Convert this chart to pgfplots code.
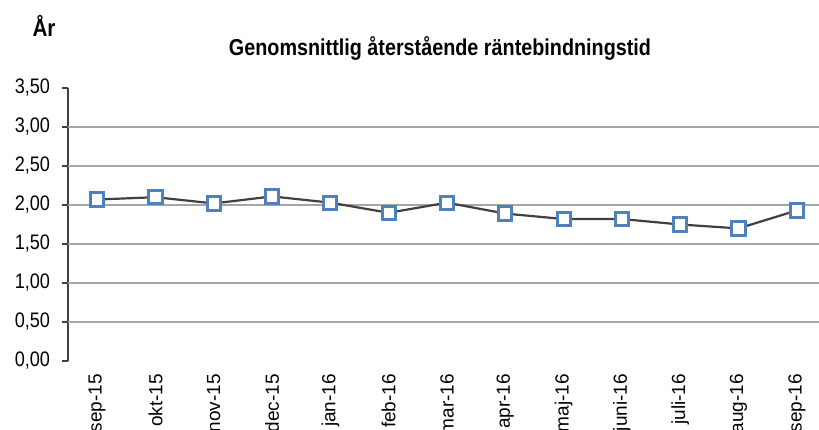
\documentclass[border=0pt]{standalone}
\usepackage{pgfplots}
\pgfplotsset{compat=1.18}
\usepackage{fontspec}
\setmainfont{Liberation Sans}
\newfontfamily\condfont[FakeStretch=0.86]{Liberation Sans}
\definecolor{mblue}{HTML}{4F81BD}
\definecolor{lgray}{HTML}{404040}
\definecolor{ggray}{HTML}{A6A6A6}
\begin{document}
\begin{tikzpicture}
\begin{axis}[
  at={(0,0)}, anchor=south west,
  scale only axis,
  width=375.5pt, height=136.5pt,
  xmin=-0.5, xmax=12.38,
  ymin=0, ymax=3.5,
  xtick=data,
  xticklabels={sep-15,okt-15,nov-15,dec-15,jan-16,feb-16,mar-16,apr-16,maj-16,juni-16,juli-16,aug-16,sep-16},
  xticklabel style={rotate=90, anchor=east, font=\fontsize{9.5}{11}\selectfont, text=black},
  x tick style={draw=none},
  ytick={0,0.5,...,3.5},
  yticklabel style={font=\condfont\fontsize{10.5}{12}\selectfont, text=black, xshift=-2.5pt},
  y tick style={lgray, line width=0.6pt},
  major tick length=3pt,
  tick align=outside,
  axis y line*=left,
  axis x line*=bottom,
  separate axis lines,
  x axis line style={draw=none},
  y axis line style={lgray, line width=0.7pt},
  extra y ticks={0.5,1,1.5,2,2.5,3},
  extra y tick labels={},
  extra y tick style={grid=major, major tick length=0pt, major grid style={ggray, line width=0.6pt}},
  /pgf/number format/.cd, fixed, fixed zerofill, precision=2, use comma, assume math mode=true,
]
\addplot[lgray, line width=1.1pt, mark=square*, mark size=3.3pt,
  mark options={draw=mblue, fill=white, line width=1.5pt}]
coordinates {
(0,2.07) (1,2.10) (2,2.02) (3,2.11) (4,2.03) (5,1.90) (6,2.03)
(7,1.89) (8,1.82) (9,1.82) (10,1.75) (11,1.70) (12,1.93)
};
\end{axis}
\node[font=\condfont\bfseries\fontsize{11.5}{13}\selectfont] at (186pt,156.5pt) {Genomsnittlig återstående räntebindningstid};
\node[font=\condfont\bfseries\fontsize{12}{14}\selectfont] at (-12pt,167.5pt) {År};
\pgfresetboundingbox
\path (-34pt,-34pt) rectangle (375.5pt,180.5pt);
\end{tikzpicture}
\end{document}
